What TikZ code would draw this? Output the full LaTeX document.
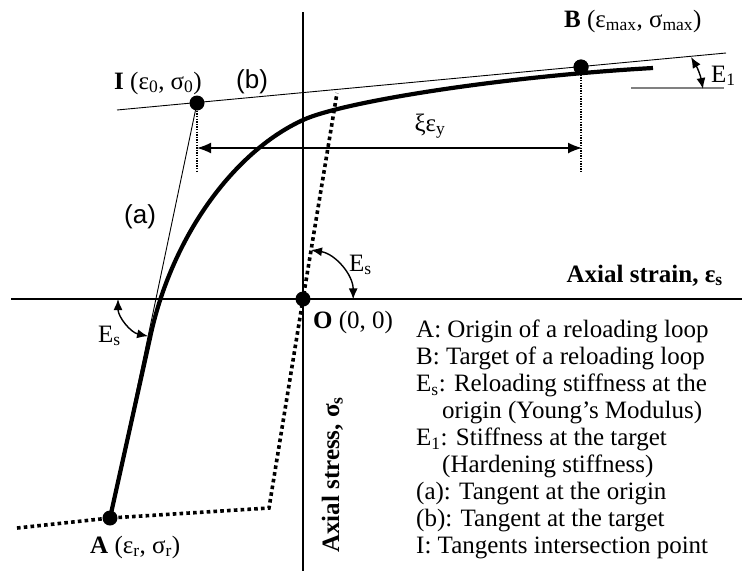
\documentclass[tikz,border=0pt]{standalone}
\usepackage{fontspec}
\setmainfont{Liberation Serif}
\newfontfamily\arialfont{Liberation Sans}
\usetikzlibrary{arrows.meta,positioning}

\newcommand{\lsub}[1]{\textsubscript{#1}}

\begin{document}
\begin{tikzpicture}[x=1pt, y=-1pt,
		every node/.style={font=\fontsize{25}{26.9}\selectfont, inner sep=0pt},
		axis/.style={line width=1.2pt},
		tangent/.style={line width=0.9pt},
		dotline/.style={line width=3.6pt, dash pattern=on 3.6pt off 3.2pt},
		guide/.style={line width=1.4pt, dash pattern=on 1.4pt off 1.2pt},
		loadcurve/.style={line width=4.2pt},
		bigdot/.style={circle, fill, inner sep=0pt, minimum size=15pt},
		dimarrow/.style={line width=1.6pt, {Latex[length=14pt,width=11pt]}-{Latex[length=14pt,width=11pt]}},
		arcarrow/.style={line width=1.4pt, {Latex[length=11pt,width=9pt]}-{Latex[length=11pt,width=9pt]}},
		sanslabel/.style={font=\arialfont\fontsize{26}{28}\selectfont}
	]
		\useasboundingbox (0,0) rectangle (742,571);

		% axes
		\draw [axis] (11,299) -- (742,299);
		\draw [axis] (303,12) -- (303,571);

		% points
		\node [bigdot] (I) at (197,103) {};
		\node [bigdot] (B) at (581,67) {};
		\node [bigdot] (A) at (110,518) {};
		\node [bigdot] (O) at (303,299) {};

		% tangents (a) and (b)
		\coordinate (bl) at (117,110);
		\coordinate (br) at (726,53);
		\draw [tangent] (bl) -- (br);
		\draw [tangent] (A.center) -- (I.center);

		% guides and the xi eps_y span
		\coordinate (gi) at (197,173);
		\coordinate (gb) at (581,172);
		\draw [guide] (I.center) -- (gi);
		\draw [guide] (B.center) -- (gb);
		\coordinate (xa) at (197,148);
		\coordinate (xb) at (582,148);
		\draw [dimarrow] (xa) -- (xb);
		\node [anchor=base] at (430,131) {ξε\lsub{y}};

		% monotonic envelope (dotted)
		\coordinate (dstart) at (17,528);
		\coordinate (dcorner) at (269,508);
		\coordinate (dend) at (337,93);
		\draw [dotline] (dstart) -- (A.center) -- (dcorner) -- (O.center) -- (dend);

		% reloading curve
		\coordinate (c1) at (150,338);
		\coordinate (c2) at (303,120);
		\coordinate (c3) at (653,68);
		\draw [loadcurve] (A.center) -- (c1)
			.. controls (171,238) and (233,152) .. (c2)
			.. controls (343,101.6) and (503,76.4) .. (c3);
		\node [bigdot] at (B) {};

		% stiffness arcs
		\draw [arcarrow] (118,299) arc [start angle=180, end angle=258, radius=38pt];
		\draw [arcarrow] (311,250) arc [start angle=81, end angle=0, radius=50pt];
		\draw [line width=1.2pt, gray] (631,88) -- (724,88);
		\coordinate (ea) at (691,57);
		\coordinate (eb) at (703,89);
		\draw [arcarrow] (ea) to [bend left=10] (eb);

		% labels
		\node [anchor=base west] at (114,89) {\textbf{I} (ε\lsub{0}, σ\lsub{0})};
		\node [anchor=base west, sanslabel] at (236,88) {(b)};
		\node [anchor=base west, sanslabel] at (124,223) {(a)};
		\node [anchor=base west] at (564,27) {\textbf{B} (ε\lsub{max}, σ\lsub{max})};
		\node [anchor=base west] at (711,82) {E\lsub{1}};
		\node [anchor=base west] at (349,271) {E\lsub{s}};
		\node [anchor=base west] at (98,342) {E\lsub{s}};
		\node [anchor=base west] at (313,328) {\textbf{O} (0, 0)};
		\node [anchor=base west] at (90,553) {\textbf{A} (ε\lsub{r}, σ\lsub{r})};
		\node [anchor=base east] at (723,282) {\textbf{Axial strain, ε\lsub{s}}};
		\node [anchor=base west, rotate=90] at (339,553) {\textbf{Axial stress, σ\lsub{s}}};

		% legend
		\node [anchor=base west, align=left] (legend) at (416,553) {A: Origin of a reloading loop\\
			B: Target of a reloading loop\\
			E\lsub{s}: Reloading stiffness at the\\
			\hspace*{26pt}origin (Young's Modulus)\\
			E\lsub{1}: Stiffness at the target\\
			\hspace*{26pt}(Hardening stiffness)\\
			(a): Tangent at the origin\\
			(b): Tangent at the target\\
			I: Tangents intersection point};
	\end{tikzpicture}
\end{document}
